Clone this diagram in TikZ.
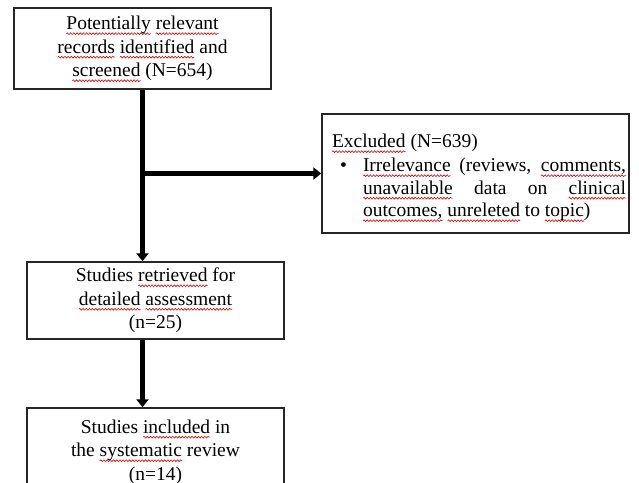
\documentclass[tikz,border=0pt]{standalone}
\usepackage{fontspec}
\setmainfont{Liberation Serif}
\usetikzlibrary{arrows.meta,decorations.pathmorphing}
\newsavebox\sqbox
\newcommand\sq[1]{\leavevmode\sbox\sqbox{#1}\rlap{\tikz[overlay,baseline=0pt]\draw[red!85!black,line width=0.6bp,decorate,decoration={snake,amplitude=0.9bp,segment length=3.2bp}] (0pt,-4bp) -- (\wd\sqbox,-4bp);}\usebox\sqbox}
\hbadness=10000
\begin{document}
\begin{tikzpicture}[x=1bp,y=-1bp,
  box/.style={draw=black!85,line width=1.4bp,fill=white,align=center,
    font=\fontsize{19.5bp}{23.5bp}\selectfont,inner sep=0pt,minimum width=257bp},
  conn/.style={line width=4.5bp,-{Triangle[width=12bp,length=8bp]}}]
\clip (0,0) rectangle (639,483);
\fill[white] (0,0) rectangle (639,483);
\node[box,minimum height=81bp] (b1) at (142.5,48.5)
  {\sq{Potentially} \sq{relevant}\\ \sq{records} \sq{identified} and\\ \sq{screened} (N=654)};
\node[box,minimum height=77bp] (b2) at (155.5,300.5)
  {Studies \sq{retrieved} for\\ \sq{detailed} \sq{assessment}\\ (n=25)};
\node[box,minimum height=88bp] (b3) at (155.5,452)
  {Studies \sq{included} in\\ the \sq{systematic} review\\ (n=14)};
\node[box,minimum width=307bp,minimum height=119bp,align=left] (ex) at (475.5,173.5)
  {\hspace{7bp}\raisebox{-4bp}[\height][\depth]{\begin{minipage}{294bp}\fontsize{19.5bp}{22.5bp}\selectfont
   \hyphenpenalty=10000\parindent=0pt
   \sq{Excluded} (N=639)\par\vspace{1.5bp}
   \leftskip=31bp\noindent\llap{\textbullet\hspace{16bp}}\sq{Irrelevance} (reviews, \sq{comments,}\linebreak
   \sq{unavailable} data on \sq{clinical}\linebreak
   \sq{outcomes,} \sq{unreleted} to \sq{topic})\par
   \end{minipage}}};
\coordinate (split) at (b1.south |- ex.west);
\draw[line width=4.5bp] (b1.south) -- (split);
\draw[conn] (split) -- (b1.south |- b2.north);
\draw[conn] (split) -- (ex.west);
\draw[conn] (b1.south |- b2.south) -- (b1.south |- b3.north);
\end{tikzpicture}
\end{document}
